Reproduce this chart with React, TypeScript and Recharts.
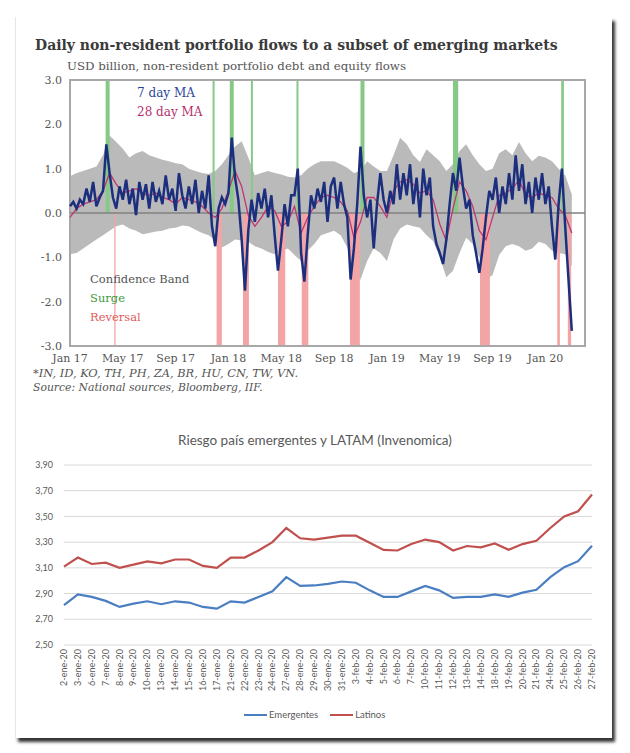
import React from 'react';
import {
  CartesianGrid,
  ComposedChart,
  Area,
  Line,
  LineChart,
  ReferenceArea,
  ReferenceLine,
  XAxis,
  YAxis,
} from 'recharts';

// ---- top chart: daily flows (months since Jan 2017) ----
const monthTicks = [0, 4, 8, 12, 16, 20, 24, 28, 32, 36];
const monthLabels = ['Jan 17', 'May 17', 'Sep 17', 'Jan 18', 'May 18', 'Sep 18', 'Jan 19', 'May 19', 'Sep 19', 'Jan 20'];
const flowTicks = [-3, -2, -1, 0, 1, 2, 3];

// 7 day MA, one value per quarter month
const ma7 = [
  0.15, 0.25, 0.1, 0.3,
  0.2, 0.55, 0.25, 0.7,
  0.15, 0.35, 0.5, 1.55,
  0.9, 0.35, 0.1, 0.6,
  0.3, 0.75, 0.2, 0.55,
  -0.05, 0.7, 0.3, 0.65,
  0.1, 0.7, 0.25, 0.5,
  0.2, 0.85, 0.3, 0.55,
  0.05, 0.9, 0.4, 0.1,
  0.6, 0.2, 0.75, 0.0,
  0.5, 0.1, 0.85, -0.3,
  -0.75, 0.1, 0.35, 0.2,
  0.45, 1.7, 0.8, 0.3,
  -0.6, -1.75, -0.4, 0.3,
  -0.2, 0.45, 0.1, 0.55,
  -0.1, 0.4, -0.5, -1.3,
  -0.6, 0.2, -0.3, 0.4,
  0.4, 1.0, -0.9, -1.55,
  -0.5, 0.4, 0.1, 0.55,
  0.25, 0.7, -0.2, 0.6,
  0.8, 0.1, 0.7, 0.2,
  -0.1, -1.5, -0.8, 0.2,
  1.5, 0.4, -0.1, 0.3,
  -0.8, 0.2, 0.9, 0.3,
  0.0, 0.5, 0.2, 1.1,
  0.3, 0.9, 0.4, 1.1,
  0.2, 0.8, -0.1, 1.0,
  0.4, 0.8, -0.3, -0.7,
  -0.9, -1.15, -0.6, 0.2,
  0.9, 0.5, 1.25, 0.6,
  0.1, 0.3, -0.5, -0.9,
  -1.35, -0.8, -0.1, 0.5,
  0.3, 0.8, 0.0, 0.6,
  0.2, 0.9, 0.3, 1.3,
  0.5, 1.1, 0.2, 0.7,
  0.0, 0.8, 0.3, 0.9,
  0.2, 0.6, -0.3, -1.05,
  0.2, 1.0, -0.3, -1.5,
  -2.66,
];

// 28 day MA and confidence band, one value per half month
const ma28 = [
  -0.1, 0.1, 0.2, 0.25, 0.3, 0.5, 0.9, 0.65, 0.45, 0.5,
  0.55, 0.45, 0.4, 0.45, 0.35, 0.3, 0.2, 0.35, 0.3, 0.25,
  0.15, 0.0, -0.1, 0.1, 0.5, 0.95, 0.6, -0.05, -0.3, -0.1,
  0.15, 0.05, -0.3, -0.2, 0.15, -0.45, -0.1, 0.15, 0.35, 0.4,
  0.35, 0.25, 0.05, -0.55, -0.2, 0.35, 0.35, 0.15, -0.1, 0.5,
  0.7, 0.75, 0.65, 0.45, 0.5, 0.3, -0.25, -0.63, 0.1, 0.7,
  0.5, 0.15, -0.4, -0.6, -0.1, 0.4, 0.45, 0.55, 0.75, 0.4,
  0.35, 0.45, 0.4, 0.35, 0.1, -0.05, -0.45,
];
const bandHigh = [
  0.83, 0.9, 0.95, 1.0, 1.05, 1.3, 1.75, 1.6, 1.45, 1.25,
  1.35, 1.4, 1.3, 1.25, 1.2, 1.17, 1.12, 1.1, 1.0, 0.95,
  0.9, 0.88, 0.95, 1.1, 1.3, 1.5, 1.62, 1.25, 0.85, 0.9,
  0.95, 0.9, 0.87, 0.82, 0.8, 0.85, 1.0, 1.1, 1.17, 1.17,
  1.17, 1.1, 1.02, 0.9, 0.95, 1.17, 1.05, 0.95, 0.95, 1.3,
  1.7, 1.55, 1.3, 1.15, 1.44, 1.3, 1.17, 0.95, 1.1, 1.4,
  1.55, 1.3, 1.1, 0.95, 1.0, 1.35, 1.44, 1.3, 1.6, 1.35,
  1.17, 1.29, 1.25, 1.17, 1.0, 0.85, 0.42,
];
const bandLow = [
  -0.93, -0.9, -0.8, -0.7, -0.6, -0.5, -0.4, -0.3, -0.26, -0.35,
  -0.4, -0.48, -0.45, -0.42, -0.4, -0.35, -0.33, -0.28, -0.3, -0.38,
  -0.45, -0.5, -0.62, -0.78, -0.7, -0.6, -0.62, -0.65, -0.75, -0.8,
  -0.88, -0.93, -0.85, -0.8, -0.95, -1.08, -0.85, -0.7, -0.5, -0.45,
  -0.4, -0.5, -0.78, -1.4, -1.5, -1.08, -0.8, -0.9, -1.08, -0.6,
  -0.35, -0.26, -0.3, -0.33, -0.5, -0.63, -1.0, -1.45, -1.3, -0.9,
  -0.56, -0.7, -1.0, -1.5, -1.4, -0.95, -0.75, -0.7, -0.75, -0.85,
  -0.8, -0.65, -0.7, -0.85, -0.9, -0.93, -1.2,
];

// surge / reversal episodes, [start, end] in months
const surgePeriods = [
  [2.7, 3.0], [10.8, 10.95], [12.1, 12.4], [13.7, 13.85],
  [17.15, 17.3], [22.0, 22.3], [29.0, 29.4], [37.2, 37.4],
];
const reversalPeriods = [
  [3.35, 3.45], [11.1, 11.5], [13.1, 13.55], [15.75, 16.3],
  [17.55, 18.05], [21.2, 21.95], [31.05, 31.8], [36.9, 37.1], [37.7, 37.95],
];

const flowRows = ma7.map((v, i) => ({
  m: i * 0.25,
  ma7: v,
  ma28: i % 2 === 0 ? ma28[i / 2] : null,
  band: i % 2 === 0 ? [bandLow[i / 2], bandHigh[i / 2]] : null,
}));

// ---- bottom chart: riesgo país ----
const fechas = [
  '2-ene-20', '3-ene-20', '6-ene-20', '7-ene-20', '8-ene-20', '9-ene-20', '10-ene-20',
  '13-ene-20', '14-ene-20', '15-ene-20', '16-ene-20', '17-ene-20', '21-ene-20', '22-ene-20',
  '23-ene-20', '24-ene-20', '27-ene-20', '28-ene-20', '29-ene-20', '30-ene-20', '31-ene-20',
  '3-feb-20', '4-feb-20', '5-feb-20', '6-feb-20', '7-feb-20', '10-feb-20', '11-feb-20',
  '12-feb-20', '13-feb-20', '14-feb-20', '18-feb-20', '19-feb-20', '20-feb-20', '21-feb-20',
  '24-feb-20', '25-feb-20', '26-feb-20', '27-feb-20',
];
const emergentes = [
  2.81, 2.894, 2.874, 2.843, 2.796, 2.822, 2.84, 2.817, 2.84, 2.83,
  2.796, 2.783, 2.84, 2.83, 2.874, 2.917, 3.028, 2.96, 2.963, 2.976,
  2.994, 2.984, 2.925, 2.874, 2.874, 2.917, 2.959, 2.925, 2.866, 2.874,
  2.874, 2.894, 2.874, 2.907, 2.93, 3.028, 3.105, 3.152, 3.272,
];
const latinos = [
  3.11, 3.18, 3.13, 3.14, 3.1, 3.125, 3.15, 3.135, 3.165, 3.165,
  3.115, 3.1, 3.18, 3.18, 3.235, 3.3, 3.41, 3.33, 3.32, 3.335,
  3.35, 3.35, 3.295, 3.24, 3.235, 3.285, 3.32, 3.3, 3.235, 3.27,
  3.26, 3.29, 3.24, 3.285, 3.31, 3.41, 3.5, 3.54, 3.67,
];
const riesgoTicks = [2.5, 2.7, 2.9, 3.1, 3.3, 3.5, 3.7, 3.9];
const seriesNames = ['Emergentes', 'Latinos'];
const seriesColors = ['#4a7ec2', '#c0504d'];

const riesgoRows = fechas.map((f, i) => ({ fecha: f, emergentes: emergentes[i], latinos: latinos[i] }));

const serif = '"DejaVu Serif", "Liberation Serif", serif';
const sans = 'Lato, "Open Sans", sans-serif';

function abs(left: number, top: number, extra: React.CSSProperties = {}): React.CSSProperties {
  return { position: 'absolute', left, top, whiteSpace: 'nowrap', lineHeight: 1, ...extra };
}

function DateTick({ x, y, payload }: any) {
  return (
    <g transform={`translate(${x},${y})`}>
      <text x={0} y={0} dy={3} textAnchor="end" transform="rotate(-90)" fontSize={9} fill="#595959" fontFamily={sans}>
        {payload.value}
      </text>
    </g>
  );
}

export default function App() {
  return (
    <div style={{ position: 'absolute', left: 0, top: 0, width: 630, height: 753, background: '#fff', overflow: 'hidden' }}>
      <div
        style={{
          position: 'absolute', left: 15, top: 17, width: 596, height: 721, background: '#fff',
          borderLeft: '1px solid #e6e6e6', boxShadow: '3px 4px 3px rgba(0,0,0,0.8)',
        }}
      />

      <div style={abs(35, 38, { fontFamily: serif, fontWeight: 'bold', fontSize: 14, color: '#3a3a3a' })}>
        Daily non-resident portfolio flows to a subset of emerging markets
      </div>
      <div style={abs(67, 61, { fontFamily: serif, fontSize: 11.8, color: '#555' })}>
        USD billion, non-resident portfolio debt and equity flows
      </div>

      <div style={{ position: 'absolute', left: 0, top: 0 }}>
        <ComposedChart width={630} height={380} data={flowRows} margin={{ top: 80, right: 45, bottom: 14, left: 30 }}>
          <XAxis
            dataKey="m" type="number" domain={[0, 39]} ticks={monthTicks} axisLine={false} tickLine={false}
            tickFormatter={(v: number) => monthLabels[monthTicks.indexOf(v)]} height={20}
            tick={{ fontSize: 11, fill: '#555', fontFamily: serif }}
          />
          <YAxis
            type="number" domain={[-3, 3]} ticks={flowTicks} axisLine={false} tickLine={false} width={40}
            tickFormatter={(v: number) => v.toFixed(1)} tick={{ fontSize: 11, fill: '#555', fontFamily: serif }}
          />
          <Area dataKey="band" type="linear" stroke="none" fill="#bababa" fillOpacity={1} connectNulls isAnimationActive={false} />
          {surgePeriods.map(([a, b], i) => (
            <ReferenceArea key={'s' + i} x1={a} x2={b} y1={0} y2={3} fill="#86c886" fillOpacity={1} stroke="none" />
          ))}
          {reversalPeriods.map(([a, b], i) => (
            <ReferenceArea key={'r' + i} x1={a} x2={b} y1={-3} y2={0} fill="#f3a5a5" fillOpacity={1} stroke="none" />
          ))}
          <ReferenceLine y={0} stroke="#808080" strokeWidth={1.5} />
          <Line dataKey="ma28" type="linear" stroke="#c2356f" strokeWidth={1.3} dot={false} connectNulls isAnimationActive={false} />
          <Line dataKey="ma7" type="linear" stroke="#1c2f7e" strokeWidth={2.5} dot={false} isAnimationActive={false} />
          <ReferenceArea x1={0} x2={39} y1={-3} y2={3} fill="none" fillOpacity={0} stroke="#a8a8a8" strokeWidth={2} />
        </ComposedChart>
      </div>

      <div style={abs(137, 87, { fontFamily: serif, fontSize: 12, color: '#2a4596' })}>7 day MA</div>
      <div style={abs(137, 106, { fontFamily: serif, fontSize: 12, color: '#b5306c' })}>28 day MA</div>
      <div style={abs(90, 274, { fontFamily: serif, fontSize: 11.5, color: '#555' })}>Confidence Band</div>
      <div style={abs(90, 293, { fontFamily: serif, fontSize: 11.5, color: '#3d9a3d' })}>Surge</div>
      <div style={abs(90, 312, { fontFamily: serif, fontSize: 11.5, color: '#e05a5a' })}>Reversal</div>

      <div style={abs(33, 368, { fontFamily: serif, fontStyle: 'italic', fontSize: 11.4, color: '#555' })}>
        *IN, ID, KO, TH, PH, ZA, BR, HU, CN, TW, VN.
      </div>
      <div style={abs(33, 383, { fontFamily: serif, fontStyle: 'italic', fontSize: 10.8, color: '#555' })}>
        Source: National sources, Bloomberg, IIF.
      </div>

      <div style={abs(0, 434, { width: 630, textAlign: 'center', fontFamily: sans, fontSize: 13.5, color: '#595959' })}>
        Riesgo país emergentes y LATAM (Invenomica)
      </div>

      <div style={{ position: 'absolute', left: 0, top: 430 }}>
        <LineChart width={630} height={290} data={riesgoRows} margin={{ top: 35, right: 38, bottom: 20, left: 30 }}>
          <CartesianGrid vertical={false} stroke="#d9d9d9" />
          <XAxis dataKey="fecha" interval={0} axisLine={false} tickLine={false} tickSize={2} tickMargin={2} height={55} tick={<DateTick />} />
          <YAxis
            type="number" domain={[2.5, 3.9]} ticks={riesgoTicks} axisLine={false} tickLine={false} width={34} tickMargin={5}
            tickFormatter={(v: number) => v.toFixed(2).replace('.', ',')} tick={{ fontSize: 9, fill: '#595959', fontFamily: sans }}
          />
          <Line dataKey="emergentes" stroke={seriesColors[0]} strokeWidth={2.2} dot={false} isAnimationActive={false} />
          <Line dataKey="latinos" stroke={seriesColors[1]} strokeWidth={2.2} dot={false} isAnimationActive={false} />
        </LineChart>
      </div>

      <div style={abs(244, 710, { display: 'flex', alignItems: 'center', fontFamily: sans, fontSize: 9.5, color: '#595959' })}>
        {seriesNames.map((n, i) => (
          <span key={n} style={{ display: 'flex', alignItems: 'center', marginRight: 12 }}>
            <span style={{ display: 'inline-block', width: 23, height: 2, background: seriesColors[i], marginRight: 2 }} />
            {n}
          </span>
        ))}
      </div>
    </div>
  );
}
